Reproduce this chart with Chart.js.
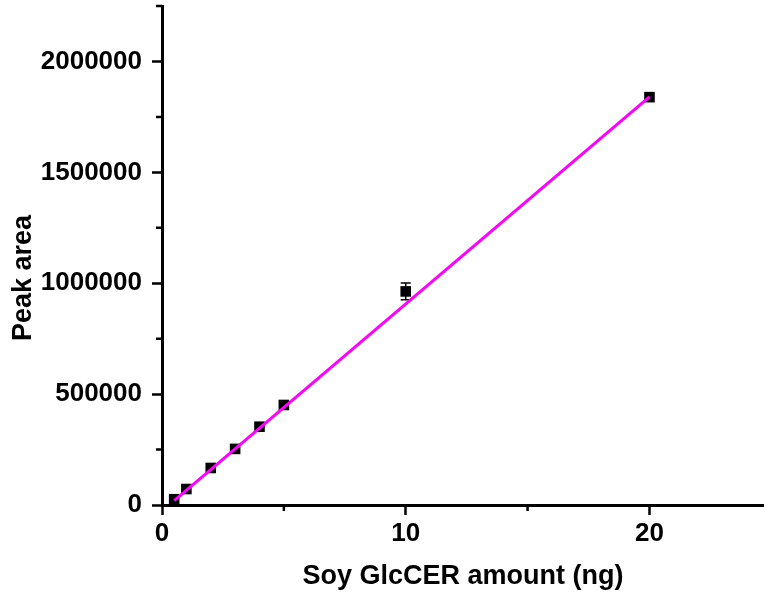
<!DOCTYPE html>
<html>
<head>
<meta charset="utf-8">
<script src="https://cdn.jsdelivr.net/npm/chart.js@4.4.0/dist/chart.umd.min.js"></script>
<style>
  html, body { margin: 0; padding: 0; background: #fff; overflow: hidden; }
  #wrap { width: 764px; height: 598px; }
</style>
</head>
<body>
<div id="wrap"><canvas id="calib" width="764" height="598"></canvas></div>
<script>
// calibration data
var amountNg = [0.5, 1, 2, 3, 4, 5, 10, 20];
var peakArea = [26000, 72000, 167000, 253000, 353000, 451000, 963000, 1839000];
var peakSd   = [0, 0, 0, 0, 0, 0, 38000, 0];

// linear fit line (end points)
var fitX = [0.5, 20];
var fitY = [20000, 1840000];

var xMajor = [0, 10, 20];
var xMinor = [5, 15];
var yMajor = [0, 500000, 1000000, 1500000, 2000000];
var yMinor = [250000, 750000, 1250000, 1750000, 2250000];

var tickFont = { family: "'Liberation Sans', Arial, sans-serif", size: 26, weight: 'bold' };
var titleFont = { family: "'Liberation Sans', Arial, sans-serif", size: 27, weight: 'bold' };

var errorBars = {
    id: 'errorBars',
    beforeDatasetsDraw: function(chart) {
        var ctx = chart.ctx, xs = chart.scales.x, ys = chart.scales.y;
        ctx.save();
        ctx.strokeStyle = '#000';
        ctx.lineWidth = 1.5;
        for (var i = 0; i < amountNg.length; i++) {
            if (!peakSd[i]) continue;
            var px = xs.getPixelForValue(amountNg[i]);
            var top = ys.getPixelForValue(peakArea[i] + peakSd[i]);
            var bot = ys.getPixelForValue(peakArea[i] - peakSd[i]);
            ctx.beginPath();
            ctx.moveTo(px, top); ctx.lineTo(px, bot);
            ctx.moveTo(px - 5, top); ctx.lineTo(px + 5, top);
            ctx.moveTo(px - 5, bot); ctx.lineTo(px + 5, bot);
            ctx.stroke();
        }
        ctx.restore();
    }
};

var minorTicks = {
    id: 'minorTicks',
    afterDraw: function(chart) {
        var ctx = chart.ctx, xs = chart.scales.x, ys = chart.scales.y;
        var area = chart.chartArea;
        ctx.save();
        ctx.strokeStyle = '#000';
        ctx.lineWidth = 2.5;
        ctx.beginPath();
        xMinor.forEach(function(v) {
            var px = xs.getPixelForValue(v);
            ctx.moveTo(px, area.bottom); ctx.lineTo(px, area.bottom + 6);
        });
        yMinor.forEach(function(v) {
            var py = ys.getPixelForValue(v);
            ctx.moveTo(area.left, py); ctx.lineTo(area.left - 6, py);
        });
        ctx.stroke();
        ctx.restore();
    }
};

var ctx = document.getElementById('calib').getContext('2d');
var chart = new Chart(ctx, {
    type: 'scatter',
    data: {
        datasets: [{
            label: 'Linear fit',
            data: fitX.map(function(x, i) { return { x: x, y: fitY[i] }; }),
            showLine: true,
            borderColor: '#ff00ff',
            borderWidth: 3,
            pointRadius: 0,
            fill: false
        }, {
            label: 'Soy GlcCER',
            data: amountNg.map(function(x, i) { return { x: x, y: peakArea[i] }; }),
            pointStyle: 'rect',
            pointRadius: 7.5,
            backgroundColor: '#000',
            borderColor: '#000',
            borderWidth: 0
        }]
    },
    options: {
        responsive: false,
        animation: false,
        devicePixelRatio: 1,
        layout: { autoPadding: false, padding: { top: 6, right: 0, bottom: 0, left: 0 } },
        plugins: { legend: { display: false }, tooltip: { enabled: false } },
        scales: {
            x: {
                type: 'linear',
                min: 0,
                max: 24.7,
                border: { display: true, color: '#000', width: 3 },
                grid: { drawOnChartArea: false, drawTicks: true, tickLength: 10, tickWidth: 2.5, tickColor: '#000' },
                ticks: {
                    stepSize: 5,
                    maxRotation: 0,
                    padding: 3,
                    color: '#000',
                    font: tickFont,
                    callback: function(v) { return xMajor.indexOf(v) >= 0 ? String(v) : null; }
                },
                title: {
                    display: true,
                    text: 'Soy GlcCER amount (ng)',
                    color: '#000',
                    font: titleFont,
                    padding: { top: 0, bottom: 5 }
                },
                afterFit: function(s) {
                    s.height = 93;
                    s.paddingLeft = 0;
                    s.paddingRight = 0;
                }
            },
            y: {
                type: 'linear',
                min: 0,
                max: 2250000,
                border: { display: true, color: '#000', width: 3 },
                grid: { drawOnChartArea: false, drawTicks: true, tickLength: 10, tickWidth: 2.5, tickColor: '#000' },
                ticks: {
                    stepSize: 250000,
                    padding: 10,
                    color: '#000',
                    font: tickFont,
                    callback: function(v) { return yMajor.indexOf(v) >= 0 ? String(v) : null; }
                },
                title: {
                    display: true,
                    // trailing spaces nudge the centred title down, as in the original
                    text: 'Peak area      ',
                    color: '#000',
                    font: titleFont,
                    padding: { top: 7, bottom: 0 }
                },
                afterFit: function(s) {
                    s.width = 162;
                    s.paddingTop = 0;
                    s.paddingBottom = 0;
                }
            }
        }
    },
    plugins: [errorBars, minorTicks]
});
</script>
</body>
</html>
